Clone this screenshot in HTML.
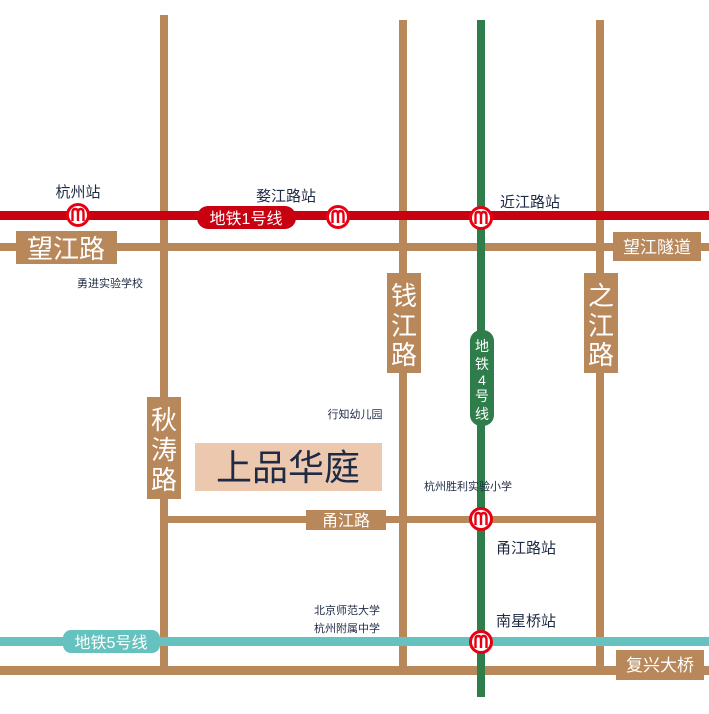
<!DOCTYPE html>
<html><head><meta charset="utf-8"><style>
body{margin:0;background:#fff}
svg text{font-family:"Liberation Sans","Noto Sans CJK SC",sans-serif}
</style></head><body>
<svg width="709" height="709" viewBox="0 0 709 709" xmlns="http://www.w3.org/2000/svg">
<defs>
<g id="m">
<circle r="12" fill="#e60012"/>
<circle r="9" fill="#fff"/>
<path d="M-5.5,6 V-3 Q-5.5,-6 -2.5,-6 Q0,-6 0,-2 V6 M0,-2 Q0,-6 2.7,-6 Q5.5,-6 5.5,-2 V6" fill="none" stroke="#e60012" stroke-width="2.4"/>
</g>
</defs>
<g fill="#b8875a">
<rect x="160" y="15" width="8" height="660"/>
<rect x="399" y="20" width="8" height="655"/>
<rect x="596" y="20" width="8" height="655"/>
<rect x="0" y="243" width="709" height="8"/>
<rect x="164" y="516" width="436" height="7"/>
<rect x="0" y="666" width="709" height="9"/>
</g>
<rect x="0" y="211" width="709" height="9" fill="#c90010"/>
<rect x="477" y="20" width="8" height="677" fill="#2e7d4a"/>
<rect x="0" y="637" width="709" height="9" fill="#66c2bf"/>
<g fill="#b8875a">
<rect x="16" y="231" width="101" height="33"/>
<rect x="613" y="232" width="88" height="29"/>
<rect x="387" y="273" width="34" height="100"/>
<rect x="584" y="273" width="34" height="100"/>
<rect x="147" y="397" width="34" height="102"/>
<rect x="306" y="510" width="80" height="20"/>
<rect x="616" y="650" width="88" height="30"/>
</g>
<rect x="197" y="206" width="99" height="23" rx="11" fill="#c90010"/>
<rect x="470" y="330" width="24" height="96" rx="11" fill="#2e7d4a"/>
<rect x="63" y="630" width="97" height="23" rx="8" fill="#66c2bf"/>
<rect x="195" y="443" width="187" height="48" fill="#ecc9ae"/>
<g fill="#fff">
<text x="66" y="258" font-size="26" text-anchor="middle">望江路</text>
<text x="657" y="253" font-size="17" text-anchor="middle">望江隧道</text>
<text x="404" y="305" font-size="26" text-anchor="middle">钱</text>
<text x="404" y="335" font-size="26" text-anchor="middle">江</text>
<text x="404" y="364" font-size="26" text-anchor="middle">路</text>
<text x="601" y="305" font-size="26" text-anchor="middle">之</text>
<text x="601" y="335" font-size="26" text-anchor="middle">江</text>
<text x="601" y="364" font-size="26" text-anchor="middle">路</text>
<text x="164" y="429" font-size="26" text-anchor="middle">秋</text>
<text x="164" y="459" font-size="26" text-anchor="middle">涛</text>
<text x="164" y="489" font-size="26" text-anchor="middle">路</text>
<text x="346" y="526" font-size="16" text-anchor="middle">甬江路</text>
<text x="660" y="671" font-size="17" text-anchor="middle">复兴大桥</text>
<text x="246" y="224" font-size="16" text-anchor="middle">地铁1号线</text>
<text x="111" y="648" font-size="16" text-anchor="middle">地铁5号线</text>
<text x="482" y="351" font-size="14" text-anchor="middle">地</text>
<text x="482" y="369" font-size="14" text-anchor="middle">铁</text>
<text x="482" y="385" font-size="14" text-anchor="middle">4</text>
<text x="482" y="401" font-size="14" text-anchor="middle">号</text>
<text x="482" y="419" font-size="14" text-anchor="middle">线</text>
</g>
<g fill="#1f2a44">
<text x="288" y="480" font-size="36" text-anchor="middle">上品华庭</text>
<text x="78" y="197" font-size="15" text-anchor="middle">杭州站</text>
<text x="286" y="201" font-size="15" text-anchor="middle">婺江路站</text>
<text x="530" y="207" font-size="15" text-anchor="middle">近江路站</text>
<text x="110" y="287" font-size="11" text-anchor="middle">勇进实验学校</text>
<text x="355" y="418" font-size="11" text-anchor="middle">行知幼儿园</text>
<text x="468" y="490" font-size="11" text-anchor="middle">杭州胜利实验小学</text>
<text x="526" y="553" font-size="15" text-anchor="middle">甬江路站</text>
<text x="526" y="626" font-size="15" text-anchor="middle">南星桥站</text>
<text x="347" y="614" font-size="11" text-anchor="middle">北京师范大学</text>
<text x="347" y="632" font-size="11" text-anchor="middle">杭州附属中学</text>
</g>
<use href="#m" x="78" y="215"/>
<use href="#m" x="338" y="217"/>
<use href="#m" x="481" y="218"/>
<use href="#m" x="481" y="519"/>
<use href="#m" x="481" y="642"/>
</svg>
</body></html>
